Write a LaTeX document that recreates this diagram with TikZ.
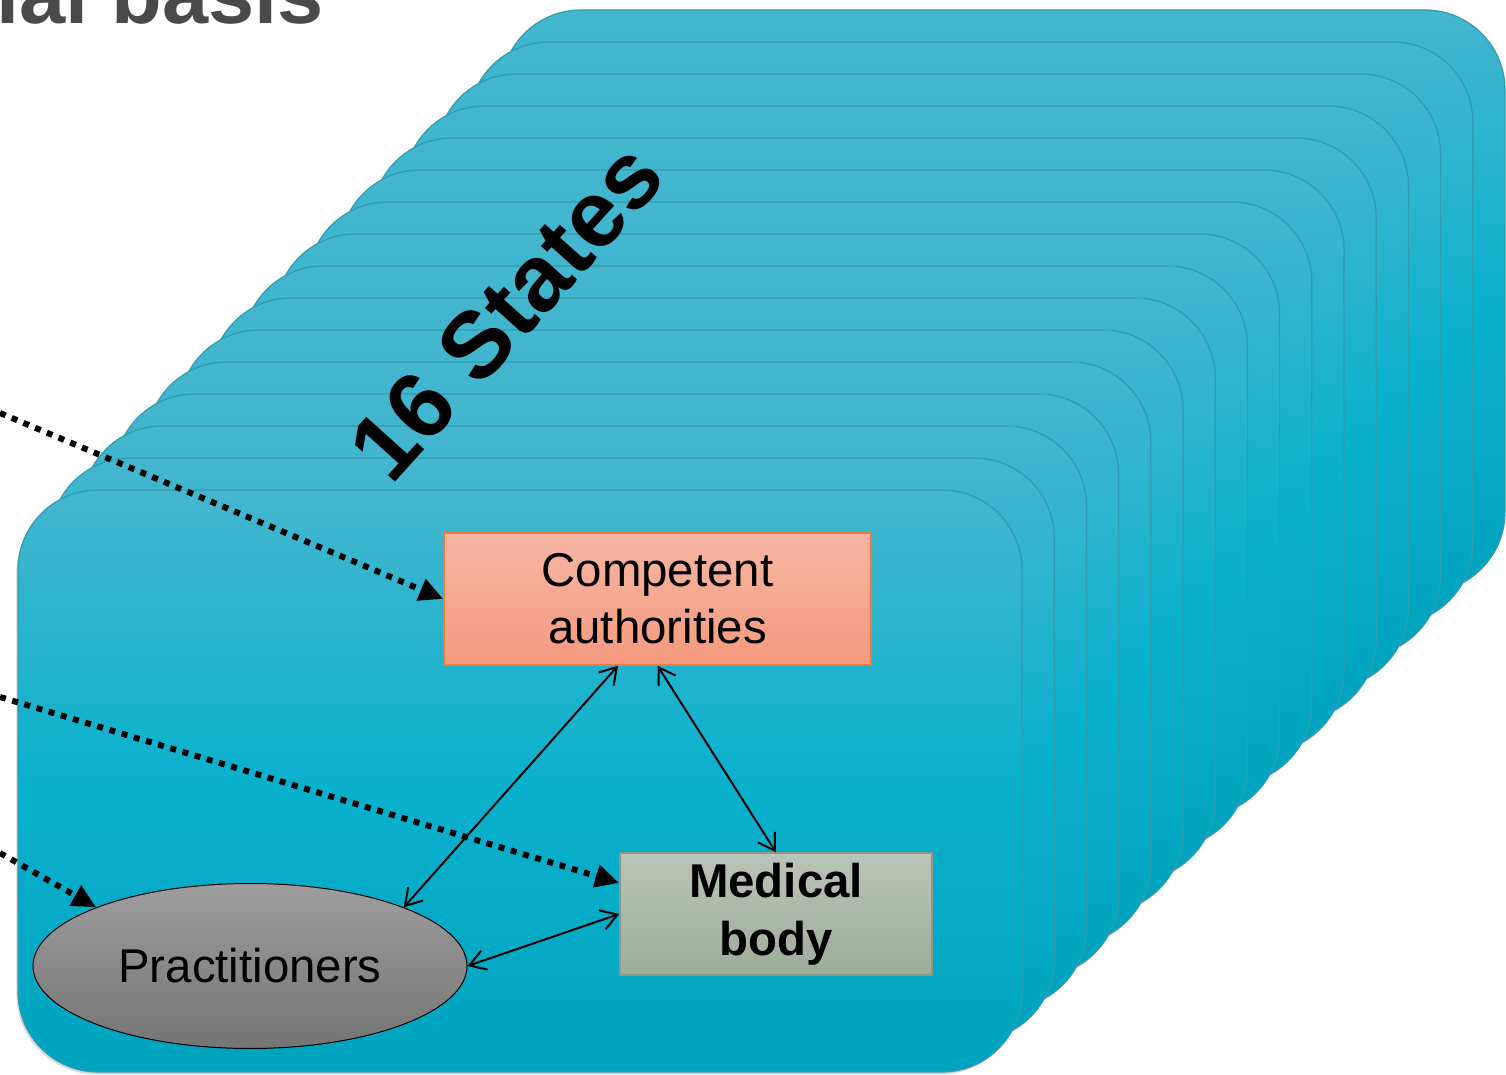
\documentclass[tikz,border=0pt]{standalone}
\usepackage{fontspec}
\setmainfont{Liberation Sans}
\usetikzlibrary{arrows.meta,shapes.geometric,shadows}

\definecolor{cardtop}{HTML}{45B6CE}
\definecolor{cardmid}{HTML}{0AB1CD}
\definecolor{cardbot}{HTML}{00A3BE}
\definecolor{cardline}{HTML}{2E9CB3}
\definecolor{authtop}{HTML}{F6B6A3}
\definecolor{authbot}{HTML}{F59A7E}
\definecolor{authline}{HTML}{F07A3C}
\definecolor{medtop}{HTML}{BAC4B8}
\definecolor{medbot}{HTML}{9EAC9A}
\definecolor{medline}{HTML}{8A9A87}
\definecolor{practop}{HTML}{9E9E9E}
\definecolor{pracbot}{HTML}{747474}
\definecolor{titlegray}{HTML}{4A4A4A}

\tikzset{
	card/.style={rounded corners=40pt, draw=cardline, line width=0.6pt,
		top color=cardtop, bottom color=cardbot, middle color=cardmid,
		drop shadow={shadow xshift=-0.8pt, shadow yshift=-1.2pt, opacity=0.3}},
	labeltext/.style={font=\fontsize{23.7}{28.5}\selectfont, align=center, inner sep=0pt},
	authbox/.style={labeltext, rectangle, draw=authline, line width=0.75pt,
		top color=authtop, bottom color=authbot, minimum width=213.5pt, minimum height=66pt},
	medbox/.style={labeltext, rectangle, draw=medline, line width=0.75pt, font=\fontsize{23.7}{29}\selectfont\bfseries,
		top color=medtop, bottom color=medbot, minimum width=156pt, minimum height=61pt},
	pracell/.style={labeltext, ellipse, draw=black, line width=0.5pt,
		top color=practop, bottom color=pracbot, minimum width=217pt, minimum height=82.5pt},
	link/.style={line width=1pt, {Straight Barb[length=8pt,width=10pt]}-{Straight Barb[length=8pt,width=10pt]}},
	dotarrow/.style={line width=3pt, dash pattern=on 3pt off 3.35pt, -{Triangle[length=12pt,width=11pt]}}
}

\begin{document}
\begin{tikzpicture}[x=0.5pt,y=-0.5pt]
	\useasboundingbox (0,0) rectangle (1506,1075);
	
	% title, cut by the top edge
	\node[anchor=base east, inner sep=0pt, text=titlegray, font=\fontsize{41.5}{45}\selectfont\bfseries] (title) at (324.5,24) {ial basis};
	
	% stack of state cards, back to front
	\foreach \i in {15,14,...,0}
		\draw[card, shift={(32.2*\i,-32*\i)}] (18,490) rectangle (1022,1072);
	
	\node[rotate=48, inner sep=0pt, font=\fontsize{47}{50}\selectfont\bfseries] (states) at (506,311) {16 States};
	
	\node[authbox] (comp) at (657.5,599) {Competent\\authorities};
	\node[medbox] (med) at (776,914) {Medical\\body};
	\node[pracell] (prac) at (250,966) {Practitioners};
	
	\coordinate (in1) at (0,413);
	\coordinate (in2) at (0,697);
	\coordinate (in3) at (0,853);
	
	\draw[dotarrow] (in1) -- (comp.west);
	\draw[dotarrow] (in2) -- ([yshift=15.5pt]med.west);
	\draw[dotarrow] (in3) -- (prac.north west);
	
	\draw[link] (prac.north east) -- ([xshift=-19.75pt]comp.south);
	\draw[link] (comp.south) -- (med.north);
	\draw[link] (prac.east) -- (med.west);
\end{tikzpicture}
\end{document}
